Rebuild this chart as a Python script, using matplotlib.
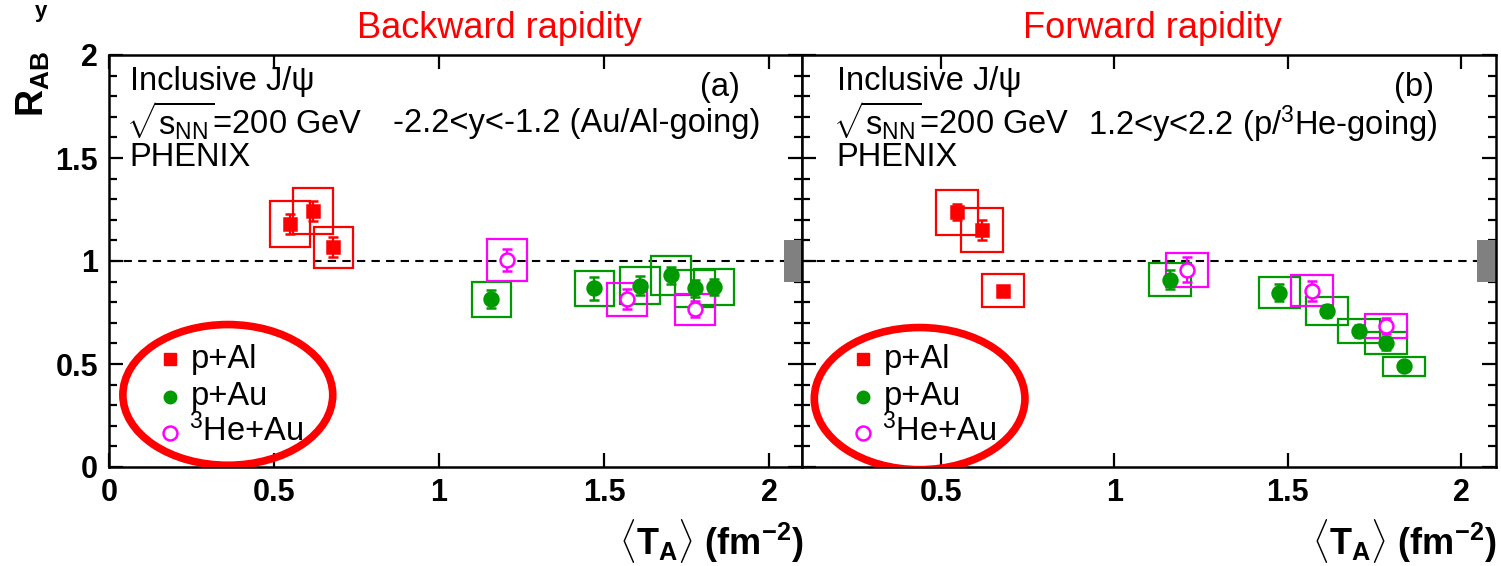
import matplotlib
matplotlib.use("Agg")
import matplotlib.pyplot as plt
from matplotlib.patches import Rectangle, Ellipse
from matplotlib.ticker import MultipleLocator

plt.rcParams['font.family'] = ['Liberation Sans', 'DejaVu Sans']
plt.rcParams['mathtext.fontset'] = 'custom'
plt.rcParams['mathtext.rm'] = 'Liberation Sans'
plt.rcParams['mathtext.it'] = 'Liberation Sans:italic'
plt.rcParams['mathtext.bf'] = 'Liberation Sans:bold'

# backward rapidity (a)
pal_x_b = [0.548, 0.619, 0.680]
pal_y_b = [1.18, 1.242, 1.067]
pal_stat_b = [0.05, 0.05, 0.05]
pal_sys_b = [0.11, 0.11, 0.10]

pau_x_b = [1.159, 1.471, 1.609, 1.703, 1.776, 1.833]
pau_y_b = [0.815, 0.867, 0.88, 0.93, 0.867, 0.873]
pau_stat_b = [0.045, 0.055, 0.045, 0.04, 0.04, 0.04]
pau_sys_b = [0.085, 0.085, 0.09, 0.095, 0.09, 0.088]

he_x_b = [1.206, 1.569, 1.776]
he_y_b = [1.005, 0.815, 0.766]
he_stat_b = [0.055, 0.05, 0.04]
he_sys_b = [0.10, 0.08, 0.075]

# forward rapidity (b)
pal_x_f = [0.546, 0.618, 0.679]
pal_y_f = [1.237, 1.151, 0.855]
pal_stat_f = [0.04, 0.05, 0.02]
pal_sys_f = [0.11, 0.105, 0.08]

pau_x_f = [1.161, 1.476, 1.613, 1.705, 1.783, 1.835]
pau_y_f = [0.909, 0.847, 0.758, 0.66, 0.60, 0.489]
pau_stat_f = [0.045, 0.04, 0.03, 0.03, 0.03, 0.02]
pau_sys_f = [0.08, 0.075, 0.067, 0.058, 0.053, 0.045]

he_x_f = [1.21, 1.569, 1.783]
he_y_f = [0.958, 0.855, 0.684]
he_stat_f = [0.06, 0.05, 0.037]
he_sys_f = [0.083, 0.075, 0.06]

global_unc = 0.1
RED = '#ff0000'
GREEN = '#009a00'
MAG = '#ff00ff'

fig = plt.figure(figsize=(15.01, 5.66), dpi=100)
ax1 = fig.add_axes([109/1501, 99/566, 693/1501, 412/566])
ax2 = fig.add_axes([802/1501, 99/566, 694/1501, 412/566])


def draw_set(ax, xs, ys, stat, sys, color, marker, filled):
    for x, y, s in zip(xs, ys, sys):
        ax.add_patch(Rectangle((x - 0.06, y - s), 0.12, 2 * s, fill=False,
                               ec=color, lw=1.6, zorder=2))
    ax.errorbar(xs, ys, yerr=stat, fmt=marker, color=color, ms=9 if marker == 's' else 10,
                mfc=color if filled else 'white', mec=color, mew=1.8,
                elinewidth=1.6, capsize=3.5, capthick=1.6, zorder=3)


def style(ax, xmin):
    ax.set_xlim(xmin, 2.1)
    ax.set_ylim(0, 2)
    ax.xaxis.set_major_locator(MultipleLocator(0.5))
    ax.yaxis.set_major_locator(MultipleLocator(0.5))
    ax.yaxis.set_minor_locator(MultipleLocator(0.1))
    ax.tick_params(which='both', direction='in', top=True, right=True, width=1.6)
    ax.tick_params(axis='x', which='minor', bottom=False, top=False)
    ax.tick_params(which='major', length=10, labelsize=22, pad=8)
    ax.tick_params(which='minor', length=6)
    for sp in ax.spines.values():
        sp.set_linewidth(1.8)
    ax.axhline(1, color='black', ls='--', lw=1.5, dashes=(4, 3), zorder=1)
    ax.add_patch(Rectangle((2.045, 1 - global_unc), 0.06, 2 * global_unc,
                           color='#808080', lw=0, zorder=2))


style(ax1, 0)
style(ax2, 0.1)
ax1.set_xticks([0, 0.5, 1, 1.5, 2])
ax1.set_xticklabels(['0', '0.5', '1', '1.5', '2'], fontweight='bold')
ax1.set_yticks([0, 0.5, 1, 1.5, 2])
ax1.set_yticklabels(['0', '0.5', '1', '1.5', '2'], fontweight='bold')
ax2.set_xticks([0.5, 1, 1.5, 2])
ax2.set_xticklabels(['0.5', '1', '1.5', '2'], fontweight='bold')
ax2.set_yticks([0, 0.5, 1, 1.5, 2])
ax2.set_yticklabels([])

draw_set(ax1, pal_x_b, pal_y_b, pal_stat_b, pal_sys_b, RED, 's', True)
draw_set(ax1, pau_x_b, pau_y_b, pau_stat_b, pau_sys_b, GREEN, 'o', True)
draw_set(ax1, he_x_b, he_y_b, he_stat_b, he_sys_b, MAG, 'o', False)

draw_set(ax2, pal_x_f, pal_y_f, pal_stat_f, pal_sys_f, RED, 's', True)
draw_set(ax2, pau_x_f, pau_y_f, pau_stat_f, pau_sys_f, GREEN, 'o', True)
draw_set(ax2, he_x_f, he_y_f, he_stat_f, he_sys_f, MAG, 'o', False)

fs = 23.5
for ax, dx, lab, rng, rx in [(ax1, 0.0, '(a)', '-2.2<y<-1.2 (Au/Al-going)', 0.94),
                             (ax2, 0.02, '(b)', '1.2<y<2.2 (p/$^{3}$He-going)', 0.915)]:
    ax.text(0.03 + dx, 0.935, 'Inclusive J/\u03c8', transform=ax.transAxes, fontsize=fs, va='center')
    ax.text(0.025 + dx, 0.84, r'$\sqrt{\mathrm{s}_{\mathrm{NN}}}$=200 GeV', transform=ax.transAxes,
            fontsize=fs, va='center')
    ax.text(0.03 + dx, 0.752, 'PHENIX', transform=ax.transAxes, fontsize=fs, va='center')
    ax.text(0.91, 0.92, lab, transform=ax.transAxes, fontsize=fs, va='center', ha='right')
    ax.text(rx, 0.833, rng, transform=ax.transAxes, fontsize=fs, va='center', ha='right')

# legends
for ax, mx, tx in [(ax1, 0.088, 0.118), (ax2, 0.088, 0.118)]:
    ax.plot([mx], [0.262], 's', color=RED, ms=9, transform=ax.transAxes, clip_on=False)
    ax.plot([mx], [0.170], 'o', color=GREEN, ms=9, transform=ax.transAxes, clip_on=False)
    ax.plot([mx], [0.083], 'o', color=MAG, mfc='white', mew=1.8, ms=10,
            transform=ax.transAxes, clip_on=False)
    ax.text(tx, 0.262, 'p+Al', transform=ax.transAxes, fontsize=fs, va='center')
    ax.text(tx, 0.172, 'p+Au', transform=ax.transAxes, fontsize=fs, va='center')
    ax.text(tx - 0.003, 0.088, '$^{3}$He+Au', transform=ax.transAxes, fontsize=fs, va='center')

ax1.add_patch(Ellipse((0.36, 0.35), 0.636, 0.683, fill=False, ec=RED, lw=5.5, zorder=5))
ax2.add_patch(Ellipse((0.439, 0.332), 0.607, 0.69, fill=False, ec=RED, lw=5.5, zorder=5))

fig.text(0.333, 0.95, 'Backward rapidity', color=RED, fontsize=26, ha='center', va='center')
fig.text(0.768, 0.95, 'Forward rapidity', color=RED, fontsize=26, ha='center', va='center')

xl = r'$\langle\mathbf{T}_{\mathbf{A}}\rangle$ (fm$^{\mathbf{-2}}$)'
fig.text(0.535, 0.045, xl, fontsize=26, fontweight='bold', ha='right', va='center')
fig.text(0.997, 0.045, xl, fontsize=26, fontweight='bold', ha='right', va='center')
fig.text(0.022, 0.852, r'$\mathbf{R}_{\mathbf{AB}}$', fontsize=27, rotation=90,
         ha='center', va='center')
fig.text(0.023, 0.999, 'y', fontsize=16, fontweight='bold', ha='left', va='top')

fig.savefig('out.png', dpi=100)
